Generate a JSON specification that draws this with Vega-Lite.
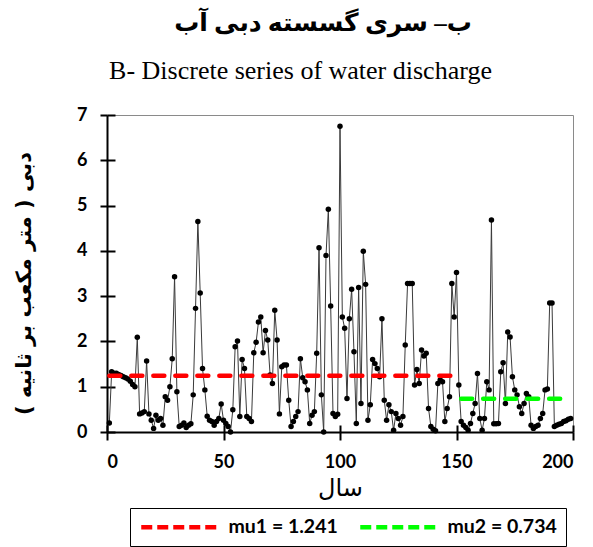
{
  "$schema": "https://vega.github.io/schema/vega-lite/v6.json",
  "width": 466,
  "height": 317,
  "autosize": "none",
  "padding": {"left": 107, "top": 115, "right": 20, "bottom": 115},
  "background": "white",
  "title": {
    "text": "ب– سری گسسته دبی آب",
    "anchor": "middle",
    "frame": "group",
    "dx": -17,
    "font": "Liberation Serif, DejaVu Sans",
    "fontSize": 25,
    "fontWeight": "bold",
    "color": "black",
    "offset": 21
  },
  "config": {
    "view": {"stroke": "#8a8a8a", "strokeWidth": 1},
    "axis": {
      "grid": false,
      "domainColor": "black",
      "domainWidth": 2,
      "tickColor": "black",
      "tickWidth": 2,
      "labelColor": "black",
      "titleColor": "black",
      "labelFont": "Lato",
      "labelFontWeight": "bold",
      "labelFontSize": 18
    },
    "legend": {
      "strokeColor": "black",
      "strokeWidth": 1,
      "padding": 9
    }
  },
  "datasets": {
    "series": [
      {"t":1,"q":0.2},{"t":2,"q":1.33},{"t":3,"q":1.3},{"t":4,"q":1.3},{"t":5,"q":1.27},{"t":6,"q":1.25},{"t":7,"q":1.22},{"t":8,"q":1.2},{"t":9,"q":1.17},{"t":10,"q":1.12},
      {"t":11,"q":1.05},{"t":12,"q":1.0},{"t":13,"q":2.09},{"t":14,"q":0.4},{"t":15,"q":0.42},{"t":16,"q":0.45},{"t":17,"q":1.57},{"t":18,"q":0.4},{"t":19,"q":0.26},{"t":20,"q":0.08},
      {"t":21,"q":0.37},{"t":22,"q":0.26},{"t":23,"q":0.3},{"t":24,"q":0.15},{"t":25,"q":0.78},{"t":26,"q":0.7},{"t":27,"q":1.0},{"t":28,"q":1.62},{"t":29,"q":3.43},{"t":30,"q":0.89},
      {"t":31,"q":0.12},{"t":32,"q":0.15},{"t":33,"q":0.2},{"t":34,"q":0.1},{"t":35,"q":0.15},{"t":36,"q":0.18},{"t":37,"q":0.82},{"t":38,"q":2.73},{"t":39,"q":4.65},{"t":40,"q":3.07},
      {"t":41,"q":1.4},{"t":42,"q":0.93},{"t":43,"q":0.35},{"t":44,"q":0.26},{"t":45,"q":0.23},{"t":46,"q":0.15},{"t":47,"q":0.23},{"t":48,"q":0.3},{"t":49,"q":0.62},{"t":50,"q":0.26},
      {"t":51,"q":0.19},{"t":52,"q":0.12},{"t":53,"q":0.0},{"t":54,"q":0.49},{"t":55,"q":1.88},{"t":56,"q":2.01},{"t":57,"q":0.34},{"t":58,"q":1.6},{"t":59,"q":1.4},{"t":60,"q":0.34},
      {"t":61,"q":0.3},{"t":62,"q":0.23},{"t":63,"q":1.75},{"t":64,"q":1.98},{"t":65,"q":2.43},{"t":66,"q":2.54},{"t":67,"q":1.75},{"t":68,"q":2.24},{"t":69,"q":2.03},{"t":70,"q":1.26},
      {"t":71,"q":1.07},{"t":72,"q":2.69},{"t":73,"q":2.03},{"t":74,"q":0.4},{"t":75,"q":1.44},{"t":76,"q":1.48},{"t":77,"q":1.48},{"t":78,"q":0.7},{"t":79,"q":0.12},{"t":80,"q":0.23},
      {"t":81,"q":0.34},{"t":82,"q":0.45},{"t":83,"q":1.62},{"t":84,"q":1.2},{"t":85,"q":1.11},{"t":86,"q":0.93},{"t":87,"q":0.19},{"t":88,"q":0.37},{"t":89,"q":0.45},{"t":90,"q":1.74},
      {"t":91,"q":4.07},{"t":92,"q":0.82},{"t":93,"q":0.0},{"t":94,"q":3.9},{"t":95,"q":4.92},{"t":96,"q":2.78},{"t":97,"q":0.41},{"t":98,"q":0.34},{"t":99,"q":0.39},{"t":100,"q":6.75},
      {"t":101,"q":2.54},{"t":102,"q":2.29},{"t":103,"q":0.74},{"t":104,"q":2.5},{"t":105,"q":3.15},{"t":106,"q":1.77},{"t":107,"q":0.19},{"t":108,"q":3.19},{"t":109,"q":0.63},{"t":110,"q":3.99},
      {"t":111,"q":3.26},{"t":112,"q":0.26},{"t":113,"q":0.6},{"t":114,"q":1.6},{"t":115,"q":1.51},{"t":116,"q":1.4},{"t":117,"q":1.22},{"t":118,"q":2.5},{"t":119,"q":0.7},{"t":120,"q":0.26},
      {"t":121,"q":0.6},{"t":122,"q":0.45},{"t":123,"q":0.04},{"t":124,"q":0.41},{"t":125,"q":0.3},{"t":126,"q":0.15},{"t":127,"q":0.34},{"t":128,"q":1.92},{"t":129,"q":3.28},{"t":130,"q":3.28},
      {"t":131,"q":3.28},{"t":132,"q":1.04},{"t":133,"q":1.38},{"t":134,"q":1.07},{"t":135,"q":1.81},{"t":136,"q":1.68},{"t":137,"q":1.74},{"t":138,"q":0.52},{"t":139,"q":0.12},{"t":140,"q":0.06},
      {"t":141,"q":0.03},{"t":142,"q":1.07},{"t":143,"q":1.15},{"t":144,"q":1.11},{"t":145,"q":0.23},{"t":146,"q":0.52},{"t":147,"q":0.78},{"t":148,"q":3.28},{"t":149,"q":2.54},{"t":150,"q":3.52},
      {"t":151,"q":1.04},{"t":152,"q":0.23},{"t":153,"q":0.15},{"t":154,"q":0.1},{"t":155,"q":0.04},{"t":156,"q":0.19},{"t":157,"q":0.41},{"t":158,"q":0.63},{"t":159,"q":1.29},{"t":160,"q":0.3},
      {"t":161,"q":0.04},{"t":162,"q":0.3},{"t":163,"q":1.11},{"t":164,"q":0.93},{"t":165,"q":4.68},{"t":166,"q":0.18},{"t":167,"q":0.18},{"t":168,"q":0.19},{"t":169,"q":1.33},{"t":170,"q":1.53},
      {"t":171,"q":0.63},{"t":172,"q":2.21},{"t":173,"q":2.1},{"t":174,"q":1.22},{"t":175,"q":0.93},{"t":176,"q":0.82},{"t":177,"q":0.56},{"t":178,"q":0.41},{"t":179,"q":0.63},{"t":180,"q":0.85},
      {"t":181,"q":0.78},{"t":182,"q":0.15},{"t":183,"q":0.08},{"t":184,"q":0.12},{"t":185,"q":0.15},{"t":186,"q":0.3},{"t":187,"q":0.41},{"t":188,"q":0.93},{"t":189,"q":0.95},{"t":190,"q":2.85},
      {"t":191,"q":2.85},{"t":192,"q":0.12},{"t":193,"q":0.15},{"t":194,"q":0.17},{"t":195,"q":0.19},{"t":196,"q":0.23},{"t":197,"q":0.25},{"t":198,"q":0.28},{"t":199,"q":0.3}
    ],
    "means": [
      {"t":1,"mu":1.241,"s":"mu1 = 1.241"},
      {"t":149,"mu":1.241,"s":"mu1 = 1.241"},
      {"t":152,"mu":0.734,"s":"mu2 = 0.734"},
      {"t":196,"mu":0.734,"s":"mu2 = 0.734"}
    ]
  },
  "layer": [
    {
      "data": {"name": "series"},
      "mark": {"type": "line", "color": "#3a3a3a", "strokeWidth": 1, "point": {"filled": true, "color": "black", "size": 30, "opacity": 1}},
      "encoding": {
        "x": {"field": "t", "type": "quantitative", "scale": {"domain": [0, 200], "nice": false},
          "axis": {"orient": "bottom", "values": [0, 50, 100, 150, 200], "tickSize": 8, "labelPadding": 13,
            "title": "سال", "titleFont": "DejaVu Sans", "titleFontSize": 24, "titleFontWeight": "normal", "titlePadding": 5}},
        "y": {"field": "q", "type": "quantitative", "scale": {"domain": [0, 7], "nice": false},
          "axis": {"orient": "left", "values": [0, 1, 2, 3, 4, 5, 6, 7], "tickSize": 7, "labelPadding": 13,
            "title": "دبی ( متر مکعب بر ثانیه )", "titleFont": "DejaVu Sans", "titleFontSize": 21, "titleFontWeight": "bold", "titlePadding": 42, "titleY": 168}}
      }
    },
    {
      "data": {"name": "means"},
      "mark": {"type": "line", "strokeWidth": 4.5, "strokeDash": [11, 11], "strokeCap": "round"},
      "encoding": {
        "x": {"field": "t", "type": "quantitative",
          "axis": {"orient": "bottom", "values": [0, 50, 100, 150, 200], "tickSize": -7, "labels": false, "domain": false, "title": null}},
        "y": {"field": "mu", "type": "quantitative",
          "axis": {"orient": "left", "values": [0, 1, 2, 3, 4, 5, 6, 7], "tickSize": -8, "labels": false, "domain": false, "title": null}},
        "detail": {"field": "s"},
        "color": {"field": "s", "type": "nominal",
          "scale": {"domain": ["mu1 = 1.241", "mu2 = 0.734"], "range": ["#ff0000", "#00ff00"]},
          "legend": {"orient": "none", "legendX": 23, "legendY": 393, "direction": "horizontal", "title": null,
            "symbolType": "M-7.7,0H7.7", "symbolSize": 100, "symbolStrokeWidth": 4.5, "symbolDash": [11, 5], "symbolOffset": 31,
            "labelFont": "Lato", "labelFontWeight": "bold", "labelFontSize": 19.5, "labelColor": "black",
            "labelOffset": 39, "columnPadding": 13}}
      }
    },
    {
      "data": {"name": "means"},
      "mark": {"type": "point", "opacity": 0},
      "encoding": {
        "x": {"field": "t", "type": "quantitative",
          "axis": {"orient": "top", "labels": false, "ticks": false, "domain": false,
            "title": "B- Discrete series of water discharge", "titleFont": "Liberation Serif", "titleFontSize": 26,
            "titleFontWeight": "normal", "titleX": 193, "titleY": -37, "titleBaseline": "alphabetic", "titleAnchor": "middle"}}
      }
    }
  ],
  "resolve": {"axis": {"x": "independent", "y": "independent"}}
}
